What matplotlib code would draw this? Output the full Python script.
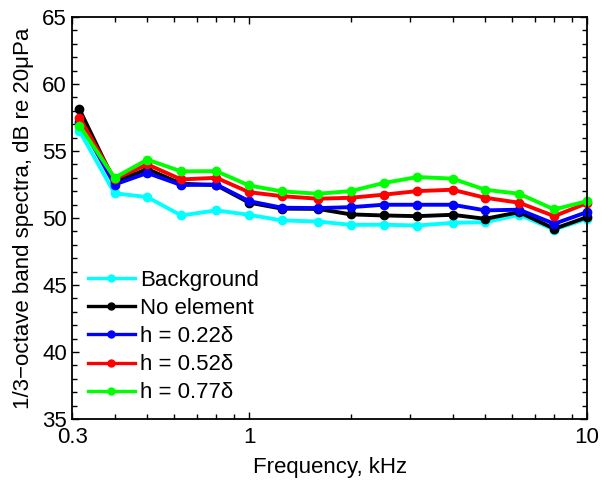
import matplotlib
matplotlib.use("Agg")
import matplotlib.pyplot as plt
from matplotlib.ticker import FixedLocator, NullFormatter, MultipleLocator

plt.rcParams['font.family'] = ['Liberation Sans', 'DejaVu Sans']

freq = [0.315, 0.4, 0.5, 0.63, 0.8, 1.0, 1.25, 1.6, 2.0, 2.5, 3.15, 4.0, 5.0, 6.3, 8.0, 10.0]
background = [56.5, 51.85, 51.56, 50.19, 50.57, 50.24, 49.82, 49.74, 49.49, 49.5, 49.44, 49.64, 49.69, 50.24, 49.14, 49.94]
no_element = [58.1, 52.7, 53.65, 52.56, 52.45, 51.15, 50.7, 50.68, 50.27, 50.19, 50.14, 50.24, 49.94, 50.44, 49.2, 50.06]
h022 = [57.2, 52.5, 53.36, 52.46, 52.5, 51.26, 50.77, 50.74, 50.81, 50.99, 50.99, 50.99, 50.57, 50.62, 49.57, 50.44]
h052 = [57.5, 52.9, 54.0, 52.88, 53.0, 51.93, 51.63, 51.44, 51.51, 51.74, 52.01, 52.11, 51.51, 51.14, 50.14, 51.11]
h077 = [56.9, 53.0, 54.36, 53.48, 53.5, 52.43, 51.99, 51.81, 52.01, 52.61, 53.06, 52.94, 52.11, 51.81, 50.64, 51.26]

labels = ['Background', 'No element', 'h = 0.22δ', 'h = 0.52δ', 'h = 0.77δ']
colors = ['#00ffff', '#000000', '#0000ff', '#ff0000', '#00ff00']
series = [background, no_element, h022, h052, h077]

fig = plt.figure(figsize=(6.13, 4.8), dpi=100)
ax = fig.add_axes([0.118, 0.127, 0.8396, 0.8376])

for s, c, lab in zip(series, colors, labels):
    ax.plot(freq, s, '-o', color=c, lw=2.8, ms=6, label=lab, clip_on=False)

ax.set_xscale('log')
ax.set_xlim(0.3, 10)
ax.set_ylim(35, 65)
ax.xaxis.set_major_locator(FixedLocator([0.3, 1, 10]))
ax.set_xticklabels(['0.3', '1', '10'])
minor = [0.4, 0.5, 0.6, 0.7, 0.8, 0.9, 2, 3, 4, 5, 6, 7, 8, 9]
ax.xaxis.set_minor_locator(FixedLocator(minor))
ax.xaxis.set_minor_formatter(NullFormatter())
ax.yaxis.set_major_locator(MultipleLocator(5))
ax.yaxis.set_minor_locator(MultipleLocator(1))

ax.tick_params(which='both', direction='in', top=True, right=True, labelsize=16, width=1)
ax.tick_params(which='major', length=5)
ax.tick_params(which='minor', length=3.5)
ax.tick_params(axis='x', which='major', pad=6)
ax.tick_params(axis='y', which='major', pad=4)
for sp in ax.spines.values():
    sp.set_linewidth(1.3)

ax.set_xlabel('Frequency, kHz', fontsize=16, labelpad=6)
ax.set_ylabel('1/3\u2212octave band spectra, dB re 20\u03bcPa', fontsize=16, labelpad=6)

leg = ax.legend(loc='lower left', frameon=False, fontsize=16, handlelength=2.1,
                handletextpad=0.25, labelspacing=0.32, borderaxespad=0.3,
                bbox_to_anchor=(0.0, 0.0))
for h in leg.get_lines():
    h.set_linewidth(2.4)
    h.set_markersize(5)

fig.savefig('out.png', dpi=100)
